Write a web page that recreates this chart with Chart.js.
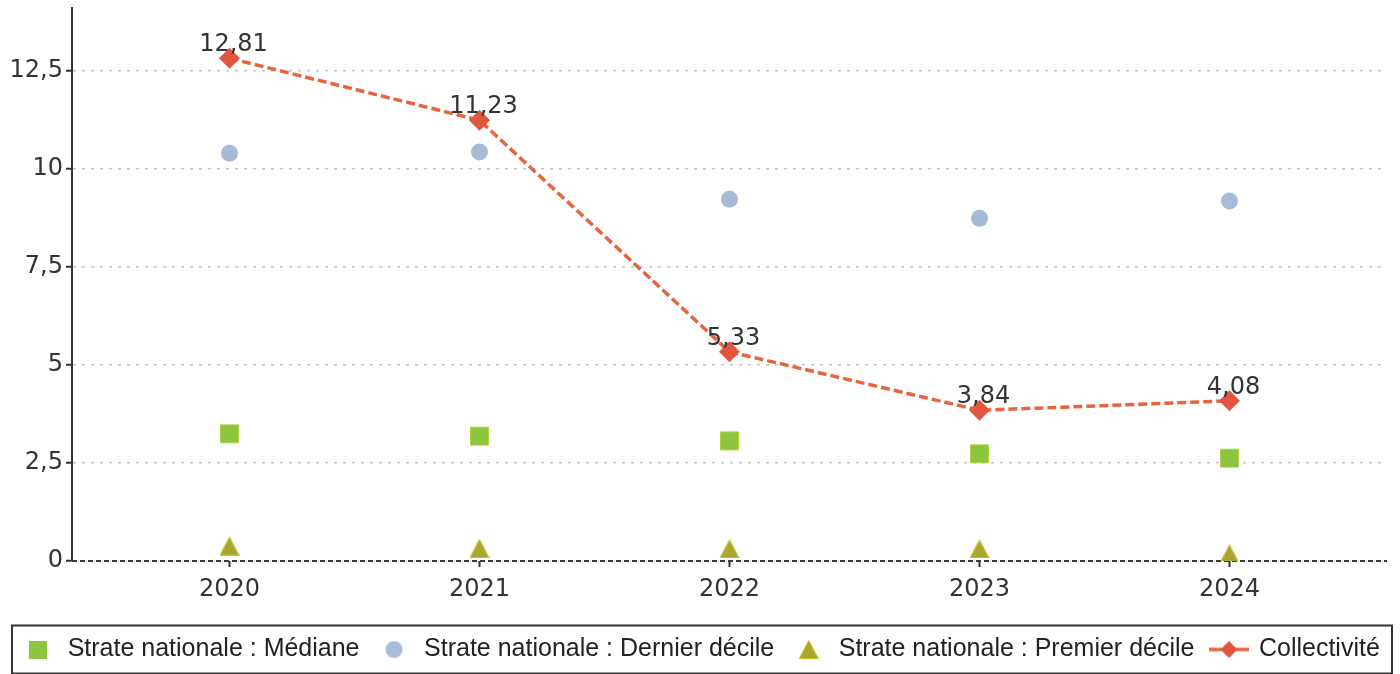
<!DOCTYPE html>
<html>
<head>
<meta charset="utf-8">
<script src="https://cdn.jsdelivr.net/npm/chart.js@4.4.1/dist/chart.umd.min.js"></script>
<style>
  html, body { margin: 0; padding: 0; background: #fff; }
  #wrap { width: 1400px; height: 674px; }
</style>
</head>
<body>
<div id="wrap"><canvas id="myChart"></canvas></div>
<script>
// values
var years = ["2020", "2021", "2022", "2023", "2024"];
var mediane = [3.24, 3.18, 3.06, 2.73, 2.62];
var dernierDecile = [10.39, 10.42, 9.22, 8.73, 9.17];
var premierDecile = [0.38, 0.32, 0.31, 0.31, 0.18];
var collectivite = [12.81, 11.23, 5.33, 3.84, 4.08];
var yTicks = [0, 2.5, 5, 7.5, 10, 12.5];

function pts(values) {
  return values.map(function (v, i) { return { x: i, y: v }; });
}

function frNum(v, d) {
  return v.toFixed(d).replace(".", ",");
}

// small canvases used as point styles
function icon(w, h, draw) {
  var c = document.createElement("canvas");
  c.width = w; c.height = h;
  draw(c.getContext("2d"));
  return c;
}
var triangleIcon = icon(20, 19, function (g) {
  g.fillStyle = "#a9a632"; g.strokeStyle = "#c9c520"; g.lineWidth = 1;
  g.beginPath(); g.moveTo(10, 0.5); g.lineTo(19.5, 18.5); g.lineTo(0.5, 18.5); g.closePath(); g.fill(); g.stroke();
});
var legendIcons = [
  icon(18, 18, function (g) { g.fillStyle = "#8cc53f"; g.fillRect(0, 0, 18, 18); }),
  icon(18, 18, function (g) { g.fillStyle = "#a7bbd9"; g.beginPath(); g.arc(9, 9, 8.5, 0, Math.PI * 2); g.fill(); }),
  triangleIcon,
  icon(40, 20, function (g) {
    g.strokeStyle = "#e8643f"; g.lineWidth = 3.5;
    g.beginPath(); g.moveTo(0, 10); g.lineTo(13, 10); g.moveTo(27, 10); g.lineTo(40, 10); g.stroke();
    g.fillStyle = "#e2553f"; g.beginPath(); g.moveTo(20, 1.5); g.lineTo(28.5, 10); g.lineTo(20, 18.5); g.lineTo(11.5, 10); g.closePath(); g.fill();
  })
];

var extras = {
  id: "extras",
  beforeDatasetsDraw: function (chart) {
    var ctx = chart.ctx, a = chart.chartArea;
    var y0 = chart.scales.y.getPixelForValue(0);
    ctx.save();
    ctx.strokeStyle = "#3a3a3a";
    ctx.lineWidth = 2;
    ctx.setLineDash([5, 3]);
    ctx.beginPath();
    ctx.moveTo(a.left, y0);
    ctx.lineTo(a.right, y0);
    ctx.stroke();
    ctx.restore();
  },
  afterDatasetsDraw: function (chart) {
    var ctx = chart.ctx;
    var meta = chart.getDatasetMeta(3);
    ctx.save();
    ctx.font = "24px 'DejaVu Sans'";
    ctx.fillStyle = "#333";
    ctx.textAlign = "center";
    ctx.textBaseline = "alphabetic";
    meta.data.forEach(function (p, i) {
      ctx.fillText(frNum(collectivite[i], 2), p.x + 4, p.y - 7);
    });
    ctx.restore();
  },
  afterDraw: function (chart) {
    var hb = chart.legend.legendHitBoxes;
    if (!hb || !hb.length) return;
    var cy = hb[0].top + hb[0].height / 2;
    var ctx = chart.ctx;
    ctx.save();
    ctx.strokeStyle = "#333";
    ctx.lineWidth = 2;
    ctx.strokeRect(12, cy - 24, 1380, 48);
    ctx.restore();
  }
};

var ctx = document.getElementById("myChart").getContext("2d");

var myChart = new Chart(ctx, {
  type: "line",
  plugins: [extras],
  data: {
    datasets: [
      {
        label: "Strate nationale : Médiane",
        data: pts(mediane),
        showLine: false,
        pointStyle: "rect",
        pointRadius: 12.7,
        pointBackgroundColor: "#8cc53f",
        pointBorderColor: "#b5d13a",
        pointBorderWidth: 1
      },
      {
        label: "Strate nationale : Dernier décile",
        data: pts(dernierDecile),
        showLine: false,
        pointStyle: "circle",
        pointRadius: 8.5,
        pointBackgroundColor: "#a7bbd9",
        pointBorderColor: "#a7bbd9",
        pointBorderWidth: 0
      },
      {
        label: "Strate nationale : Premier décile",
        data: pts(premierDecile),
        showLine: false,
        pointStyle: triangleIcon,
        pointRadius: 10
      },
      {
        label: "Collectivité",
        data: pts(collectivite),
        showLine: true,
        borderColor: "#e8643f",
        borderWidth: 3.5,
        borderDash: [9, 4],
        pointStyle: "rectRot",
        pointRadius: 10.5,
        pointBackgroundColor: "#e2553f",
        pointBorderColor: "#e2553f",
        pointBorderWidth: 0,
        tension: 0
      }
    ]
  },
  options: {
    responsive: true,
    maintainAspectRatio: false,
    animation: false,
    layout: { autoPadding: false, padding: { top: 8, right: 0, left: 0, bottom: 2 } },
    plugins: {
      tooltip: { enabled: false },
      legend: {
        position: "bottom",
        labels: {
          usePointStyle: true,
          pointStyleWidth: 35,
          padding: 17,
          color: "#222",
          font: { family: "'Liberation Sans', Arial, sans-serif", size: 25 },
          generateLabels: function (chart) {
            return chart.data.datasets.map(function (ds, i) {
              return {
                text: ds.label,
                pointStyle: legendIcons[i],
                fillStyle: "transparent",
                strokeStyle: "transparent",
                lineWidth: 0,
                hidden: false,
                datasetIndex: i,
                fontColor: "#222"
              };
            });
          }
        }
      }
    },
    scales: {
      x: {
        type: "linear",
        min: -0.63,
        max: 4.63,
        afterBuildTicks: function (scale) {
          scale.ticks = years.map(function (y, i) { return { value: i }; });
        },
        afterFit: function (scale) {
          scale.height = 59;
          scale.paddingLeft = 0;
          scale.paddingRight = 13;
        },
        ticks: {
          color: "#333",
          font: { family: "'DejaVu Sans'", size: 24 },
          padding: 8,
          maxRotation: 0,
          callback: function (v) { return years[v]; }
        },
        grid: {
          drawOnChartArea: false,
          drawTicks: true,
          tickLength: 6,
          tickColor: "#333",
          tickWidth: 2
        },
        border: { display: false }
      },
      y: {
        min: 0,
        max: 14.09,
        afterBuildTicks: function (scale) {
          scale.ticks = yTicks.map(function (v) { return { value: v }; });
        },
        afterFit: function (scale) {
          scale.width = 72;
          scale.paddingTop = 0;
          scale.paddingBottom = 0;
        },
        ticks: {
          color: "#333",
          font: { family: "'DejaVu Sans'", size: 24 },
          padding: 3,
          callback: function (v) { return frNum(v, v % 1 ? 1 : 0); }
        },
        grid: {
          color: function (c) { return c.tick && c.tick.value === 0 ? "transparent" : "#c4c4c4"; },
          lineWidth: 1.5,
          tickColor: "#333",
          tickWidth: 2,
          tickLength: 6
        },
        border: { display: true, color: "#333", width: 2, dash: [3, 6] }
      }
    }
  }
});
</script>
</body>
</html>
